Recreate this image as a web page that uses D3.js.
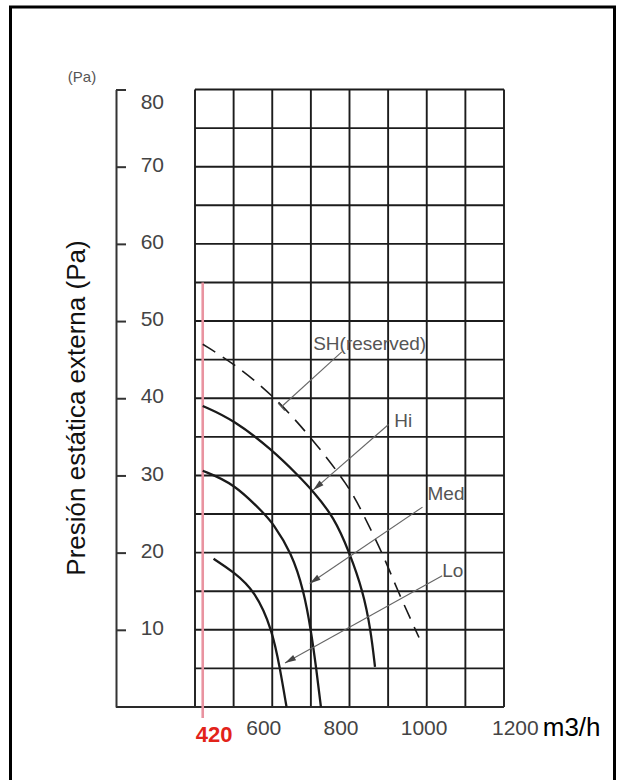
<!DOCTYPE html>
<html>
<head>
<meta charset="utf-8">
<script src="https://cdn.jsdelivr.net/npm/d3@7/dist/d3.min.js"></script>
<style>
  html, body { margin: 0; padding: 0; background: #fff; }
  svg { display: block; font-family: "Liberation Sans", Arial, Helvetica, sans-serif; }
</style>
</head>
<body>
<svg id="chart" width="617" height="780"></svg>
<script>
// Axis ticks and captions
const flowTicks = [600, 800, 1000, 1200];
const pressureTicks = [10, 20, 30, 40, 50, 60, 70, 80];
const flowUnit = "m3/h";
const pressureUnit = "(Pa)";
const pressureTitle = "Presión estática externa (Pa)";

// Rated airflow marker (m3/h) and the pressure it reaches up to (Pa)
const ratedFlow = 420;
const ratedLineTop = 55;

// Fan curves: [airflow m3/h, external static pressure Pa]
const curveSH  = [[420, 47], [500, 44.5], [600, 40.5], [700, 35], [800, 28.5], [835, 25], [885, 20], [925, 15], [980, 9]];
const curveHi  = [[420, 39], [500, 37.2], [600, 33.3], [667, 30], [705, 28], [760, 24.6], [800, 20], [835, 15], [855, 10], [866, 5.2]];
const curveMed = [[420, 30.6], [500, 29], [580, 25], [600, 23.9], [650, 20], [682, 15], [700, 10], [714, 5], [726, 0]];
const curveLo  = [[448, 19.2], [500, 17.5], [556, 15], [600, 10], [620, 5], [637, 0]];

const speedNames = ["SH(reserved)", "Hi", "Med", "Lo"];
const speedCurves = [curveSH, curveHi, curveMed, curveLo];

// Callouts: where each leader line points on its curve, where it starts, and where its name sits
const calloutTips   = [[624, 38.9], [706, 28.1], [697, 16.0], [633, 5.7]];
const calloutTails  = [[780, 46.0], [901, 36.6], [989, 25.9], [1040, 17.0]];
const calloutLabels = [[706, 46.2], [916, 36.3], [1002, 26.8], [1040, 16.9]];

const svg = d3.select("#chart");

const x = d3.scaleLinear().domain([400, 1200]).range([195, 504]);
const y = d3.scaleLinear().domain([0, 80]).range([707, 89.5]);
const axisX = 116;

// Outer frame
svg.append("rect")
  .attr("x", 10.5).attr("y", 7)
  .attr("width", 604).attr("height", 800)
  .attr("fill", "none").attr("stroke", "#000").attr("stroke-width", 3);

// Grid: one column per 100 m3/h, one row per 5 Pa
const grid = svg.append("g").attr("stroke", "#1c1c1c").attr("stroke-width", 1.9);
grid.selectAll("line.v").data(d3.range(400, 1201, 100)).join("line")
  .attr("class", "v")
  .attr("x1", d => x(d)).attr("x2", d => x(d))
  .attr("y1", y(80)).attr("y2", y(0));
grid.selectAll("line.h").data(d3.range(0, 81, 5)).join("line")
  .attr("class", "h")
  .attr("x1", x(400)).attr("x2", x(1200))
  .attr("y1", d => y(d)).attr("y2", d => y(d));

// Base line running from the pressure axis to the end of the grid
svg.append("line")
  .attr("x1", axisX).attr("x2", x(1200))
  .attr("y1", y(0)).attr("y2", y(0))
  .attr("stroke", "#2a2a2a").attr("stroke-width", 2);

// Pressure axis with inward ticks
const yAxis = d3.axisRight(y).tickValues(pressureTicks).tickSize(10).tickSizeOuter(0).tickPadding(0);
const yAxisG = svg.append("g").attr("transform", `translate(${axisX},0)`).call(yAxis);
yAxisG.select(".domain").attr("stroke", "#333").attr("stroke-width", 2);
yAxisG.selectAll(".tick line").attr("stroke", "#333").attr("stroke-width", 2);
yAxisG.selectAll(".tick text")
  .attr("x", 48)
  .attr("text-anchor", "end")
  .attr("dy", d => d === 80 ? "0.9em" : "0.22em")
  .attr("fill", "#444")
  .style("font-size", "21px")
  .style("font-family", "\"Liberation Sans\", Arial, sans-serif");

// Pressure unit above the axis
svg.append("text")
  .attr("x", 82).attr("y", 82)
  .attr("text-anchor", "middle")
  .attr("fill", "#555")
  .style("font-size", "15px")
  .text(pressureUnit);

// Rotated pressure title
svg.append("text")
  .attr("transform", "translate(85,408) rotate(-90)")
  .attr("text-anchor", "middle")
  .attr("fill", "#111")
  .style("font-size", "26px")
  .text(pressureTitle);

// Airflow tick labels; the last one carries the unit
const xLabelY = 735;
svg.selectAll("text.xtick").data(flowTicks.slice(0, -1)).join("text")
  .attr("class", "xtick")
  .attr("x", d => x(d) - 26)
  .attr("y", xLabelY)
  .attr("fill", "#444")
  .style("font-size", "21px")
  .text(d => d);
const lastTick = flowTicks[flowTicks.length - 1];
const unitText = svg.append("text")
  .attr("x", x(lastTick) - 12)
  .attr("y", xLabelY);
unitText.append("tspan").attr("fill", "#444").style("font-size", "21px").text(lastTick);
unitText.append("tspan").attr("dx", 4).attr("dy", 1).attr("fill", "#000").style("font-size", "26px").text(flowUnit);

// Rated airflow marker
svg.append("line")
  .attr("x1", x(ratedFlow)).attr("x2", x(ratedFlow))
  .attr("y1", y(ratedLineTop)).attr("y2", y(0) + 11)
  .attr("stroke", "#e993a0").attr("stroke-width", 2.6);
svg.append("text")
  .attr("x", x(ratedFlow) - 7)
  .attr("y", 742)
  .attr("fill", "#e2231a")
  .style("font-size", "22px")
  .style("font-weight", "bold")
  .text(ratedFlow);

// Fan curves
const line = d3.line().x(d => x(d[0])).y(d => y(d[1])).curve(d3.curveBasis);
svg.selectAll("path.curve").data(speedCurves).join("path")
  .attr("class", "curve")
  .attr("d", line)
  .attr("fill", "none")
  .attr("stroke", "#1a1a1a")
  .attr("stroke-width", (d, i) => i === 0 ? 1.6 : 2.3)
  .attr("stroke-dasharray", (d, i) => i === 0 ? "15,9" : null)
  .attr("stroke-linecap", "butt");

// Callouts
const callouts = svg.append("g");
speedNames.forEach((name, i) => {
  const tip = [x(calloutTips[i][0]), y(calloutTips[i][1])];
  const tail = [x(calloutTails[i][0]), y(calloutTails[i][1])];
  callouts.append("line")
    .attr("x1", tail[0]).attr("y1", tail[1])
    .attr("x2", tip[0]).attr("y2", tip[1])
    .attr("stroke", "#666").attr("stroke-width", 1.1);
  const dx = tip[0] - tail[0], dy = tip[1] - tail[1];
  const len = Math.hypot(dx, dy);
  const ux = dx / len, uy = dy / len;
  const px = -uy, py = ux;
  if (i === 0) {
    // reserved speed: bar end
    callouts.append("line")
      .attr("x1", tip[0] + px * 5).attr("y1", tip[1] + py * 5)
      .attr("x2", tip[0] - px * 5).attr("y2", tip[1] - py * 5)
      .attr("stroke", "#555").attr("stroke-width", 1.3);
  } else {
    const bx = tip[0] - ux * 11, by = tip[1] - uy * 11;
    callouts.append("path")
      .attr("d", `M${tip[0]},${tip[1]}L${bx + px * 3},${by + py * 3}L${bx - px * 3},${by - py * 3}Z`)
      .attr("fill", "#444");
  }
  callouts.append("text")
    .attr("x", x(calloutLabels[i][0]))
    .attr("y", y(calloutLabels[i][1]))
    .attr("fill", "#555")
    .style("font-size", "19px")
    .text(name);
});
</script>
</body>
</html>
